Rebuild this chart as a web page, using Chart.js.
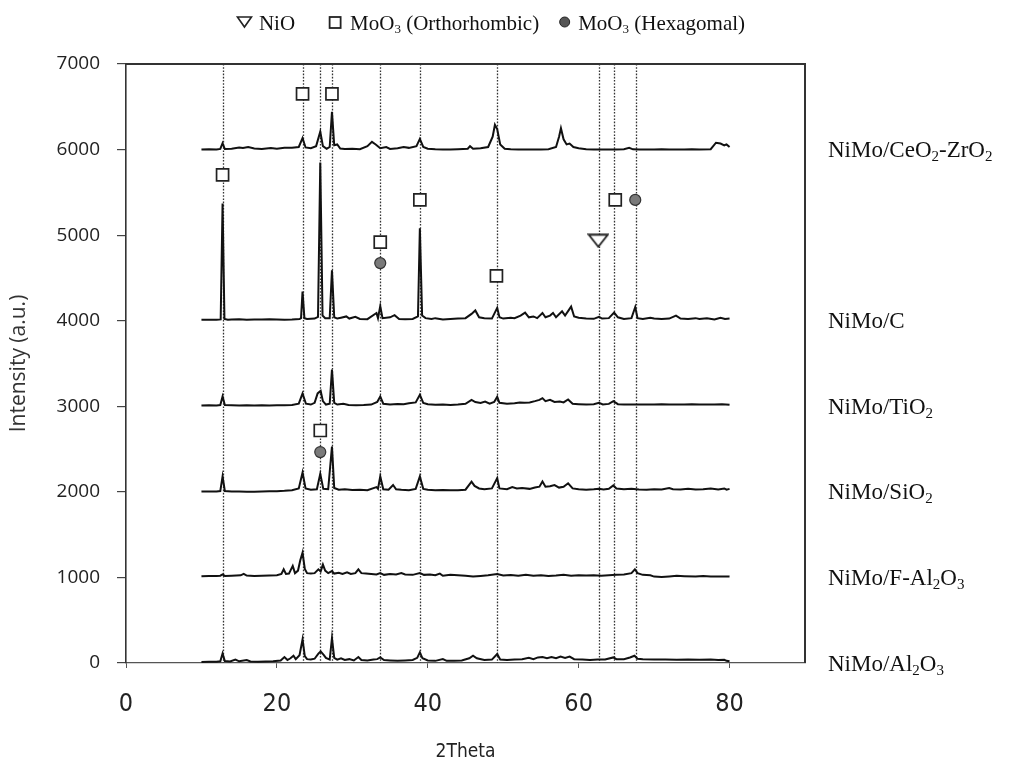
<!DOCTYPE html>
<html><head><meta charset="utf-8">
<script src="https://cdn.jsdelivr.net/npm/chart.js@4.4.0/dist/chart.umd.min.js"></script>
<style>html,body{margin:0;padding:0;background:#fff;} #wrap{width:1025px;height:764px;position:relative;}</style>
</head><body><div id="wrap"><canvas id="c" width="1025" height="764"></canvas></div>
<script>
// ---------- data ----------
const xTickValues = [0, 20, 40, 60, 80];
const xTickLabels = ['0', '20', '40', '60', '80'];
const yTickValues = [0, 1000, 2000, 3000, 4000, 5000, 6000, 7000];
const yTickLabels = ['0', '1000', '2000', '3000', '4000', '5000', '6000', '7000'];

const seriesLabels = ['NiMo/Al₂O₃', 'NiMo/F-Al₂O₃', 'NiMo/SiO₂', 'NiMo/TiO₂', 'NiMo/C', 'NiMo/CeO₂-ZrO₂'];
const seriesOffsets = [0, 1000, 2000, 3000, 4000, 6000];

const legendLabels = ['NiO', 'MoO₃ (Orthorhombic)', 'MoO₃ (Hexagomal)'];

// reference peak positions (dotted lines), 2Theta
const peakLines = [12.8, 23.4, 25.75, 27.3, 33.7, 38.95, 49.2, 62.7, 64.7, 67.55];

// phase markers [2Theta, intensity]
const nioMarkers = [[62.6, 4935]];
const orthoMarkers = [[23.4, 6650], [27.3, 6650], [12.8, 5705], [33.7, 4918], [38.95, 5412], [49.1, 4525], [64.85, 5412], [25.75, 2717]];
const hexMarkers = [[33.7, 4673], [67.5, 5412], [25.75, 2465]];

const ceo2zro2 = [[10,6000],[11,6004],[12,6002],[12.5,6008],[12.8,6075],[13.1,6006],[14,6010],[15,6025],[15.5,6018],[16.2,6030],[17,6012],[18,6008],[19.2,6018],[20,6010],[21,6020],[22,6022],[22.9,6030],[23.4,6135],[23.8,6025],[24.5,6015],[25.2,6040],[25.75,6210],[26.1,6040],[26.6,6010],[27.0,6030],[27.3,6440],[27.6,6050],[28.0,6060],[28.4,6012],[29,6008],[30,6010],[31,6005],[32,6040],[32.6,6090],[33.1,6060],[33.7,6015],[34.5,6030],[35,6008],[36,6015],[36.8,6030],[37.5,6020],[38.5,6040],[38.95,6125],[39.4,6030],[40,6010],[41,6005],[42,6002],[43,6000],[44,6005],[45.3,6010],[45.6,6040],[46,6010],[47,6015],[48,6030],[48.6,6150],[48.9,6290],[49.2,6240],[49.6,6060],[50.2,6010],[51,6005],[52,6002],[53,6000],[54,6002],[55,6000],[56,6005],[57,6030],[57.4,6150],[57.65,6250],[58,6120],[58.4,6060],[58.8,6070],[59.3,6030],[60,6015],[61,6005],[62,6002],[63,6000],[64,6002],[65,6000],[66,6003],[66.7,6020],[67.2,6003],[68,6000],[69,6002],[70,6000],[71,6003],[72,6000],[73,6002],[74,6000],[75,6003],[76,6000],[77.5,6005],[78.2,6080],[78.8,6070],[79.3,6050],[79.6,6060],[80,6030]];

const carbon = [[10,4010],[11,4012],[12,4010],[12.55,4015],[12.8,5370],[13.05,4020],[13.5,4012],[14,4015],[15,4018],[16,4012],[17,4015],[18,4013],[19,4018],[20,4015],[21,4012],[22,4015],[23,4020],[23.2,4030],[23.4,4340],[23.65,4030],[24,4020],[25,4025],[25.45,4045],[25.75,5850],[26.05,4060],[26.4,4030],[27.0,4030],[27.3,4590],[27.6,4040],[28,4025],[28.5,4035],[29.2,4050],[29.6,4025],[30.4,4045],[31,4020],[32,4018],[33.2,4090],[33.4,4030],[33.7,4170],[34,4030],[35,4040],[35.6,4065],[36.2,4020],[37,4018],[38,4020],[38.7,4050],[38.95,5080],[39.25,4060],[39.7,4030],[40.5,4020],[41,4030],[42,4015],[43,4020],[44,4025],[45,4030],[45.8,4080],[46.3,4120],[46.8,4040],[47.5,4030],[48.5,4025],[49.2,4150],[49.5,4040],[50,4025],[51,4035],[51.5,4030],[52.3,4060],[52.9,4095],[53.4,4040],[54,4050],[54.5,4030],[55.2,4090],[55.6,4040],[56.2,4060],[56.6,4090],[57,4040],[57.8,4110],[58.2,4060],[59.0,4165],[59.4,4050],[60,4035],[61,4025],[62,4022],[62.7,4045],[63.1,4025],[64,4030],[64.7,4095],[65.2,4040],[66,4020],[67,4030],[67.5,4160],[67.8,4030],[68.5,4020],[69.5,4035],[70,4025],[71,4020],[72,4025],[72.9,4060],[73.5,4025],[74.5,4020],[75.5,4030],[76,4020],[77,4030],[78,4015],[78.8,4035],[79.4,4020],[80,4025]];

const tio2 = [[10,3010],[11,3012],[12,3010],[12.5,3015],[12.8,3115],[13.1,3015],[14,3012],[15,3010],[16,3012],[17,3010],[18,3012],[19,3010],[20,3012],[21,3012],[22,3015],[22.9,3030],[23.4,3150],[23.85,3030],[24.5,3020],[25,3040],[25.4,3150],[25.8,3180],[26.1,3060],[26.5,3020],[27.0,3030],[27.3,3430],[27.6,3040],[28,3020],[28.8,3030],[29.5,3015],[30.5,3012],[31.5,3015],[32.5,3020],[33.3,3050],[33.7,3115],[34.1,3030],[35,3020],[36,3028],[36.8,3025],[37.5,3035],[38.4,3045],[38.95,3135],[39.4,3040],[40,3025],[41,3018],[42,3020],[43,3015],[44,3020],[45,3030],[45.8,3075],[46.3,3050],[47,3040],[47.6,3055],[48.2,3030],[48.8,3050],[49.2,3110],[49.5,3040],[50.5,3030],[51.5,3035],[52.2,3045],[52.8,3040],[53.5,3045],[54.2,3060],[54.8,3075],[55.2,3095],[55.6,3060],[56.2,3075],[56.8,3050],[57.5,3055],[58,3045],[58.6,3080],[59.2,3030],[60,3025],[61,3020],[62,3025],[62.7,3040],[63.2,3022],[64,3028],[64.6,3060],[65.2,3025],[66,3020],[67,3022],[68,3020],[69,3022],[70,3020],[71,3025],[72,3020],[73,3022],[74,3020],[75,3025],[76,3020],[77,3022],[78,3020],[79,3025],[80,3018]];

const sio2 = [[10,2003],[11,2005],[12,2004],[12.5,2010],[12.8,2180],[13.1,2010],[14,2005],[15,2003],[16,2000],[17,2002],[18,2005],[19,2008],[20,2008],[21,2012],[22,2018],[22.9,2040],[23.4,2225],[23.8,2040],[24.5,2025],[25.3,2030],[25.75,2210],[26.15,2035],[26.8,2030],[27.3,2530],[27.6,2045],[28.2,2025],[29,2030],[30,2022],[31,2025],[32,2020],[33.2,2055],[33.4,2035],[33.7,2180],[34.1,2030],[34.8,2025],[35.4,2080],[35.8,2030],[36.5,2025],[37.5,2020],[38.4,2035],[38.95,2180],[39.4,2035],[40,2025],[41,2020],[42,2022],[43,2020],[44,2018],[45,2025],[45.8,2120],[46.2,2070],[46.8,2040],[47.5,2030],[48.5,2040],[49.2,2160],[49.5,2040],[50.5,2030],[51.2,2055],[51.8,2040],[52.5,2045],[53.5,2035],[54.2,2050],[54.8,2060],[55.2,2120],[55.6,2060],[56.2,2065],[56.8,2080],[57.4,2050],[58,2060],[58.6,2100],[59.2,2040],[60,2030],[61,2025],[62,2030],[62.7,2035],[63.3,2028],[64,2035],[64.6,2075],[65,2040],[66,2030],[67,2035],[68,2028],[69,2025],[70,2030],[71,2028],[72,2045],[72.5,2030],[73.5,2028],[74.5,2035],[75.5,2028],[76.5,2030],[77.5,2040],[78.5,2028],[79.3,2040],[79.6,2025],[80,2035]];

const fal2o3 = [[10,1015],[11,1018],[12,1016],[12.5,1020],[12.8,1035],[13.1,1018],[14,1020],[15.2,1025],[15.6,1042],[16,1022],[17,1018],[18,1020],[19,1022],[20,1025],[20.6,1040],[20.9,1095],[21.2,1040],[21.6,1045],[22.1,1135],[22.4,1050],[22.8,1080],[23.1,1200],[23.4,1290],[23.7,1100],[24,1050],[24.5,1045],[25,1050],[25.5,1095],[25.8,1070],[26.1,1150],[26.4,1080],[26.8,1050],[27.3,1075],[27.6,1045],[28.2,1055],[28.7,1040],[29.3,1060],[29.8,1040],[30.4,1050],[30.8,1095],[31.2,1050],[31.8,1045],[32.5,1040],[33.2,1035],[33.7,1050],[34.2,1030],[35,1040],[35.8,1035],[36.5,1050],[37,1035],[38,1030],[38.95,1050],[39.5,1030],[40.3,1035],[41,1025],[41.6,1045],[42,1020],[43,1030],[44,1025],[45,1020],[46,1010],[47,1018],[48,1025],[49.2,1040],[50,1022],[51,1028],[52,1020],[53,1030],[54,1020],[55,1025],[56,1018],[57,1022],[58,1030],[59,1020],[60,1025],[61,1022],[62,1025],[63,1020],[64,1025],[65,1030],[66,1035],[67,1050],[67.45,1095],[67.8,1050],[68.5,1030],[69.5,1025],[70,1010],[71,1005],[72,1012],[73,1020],[74,1015],[75.5,1010],[76.5,1018],[77.5,1012],[78.5,1010],[79.3,1012],[80,1010]];

const al2o3 = [[10,12],[11,15],[12,14],[12.5,20],[12.8,110],[13.1,22],[13.8,18],[14.5,40],[15,20],[16,35],[16.5,18],[17.5,15],[18.5,18],[19.5,20],[20.5,30],[21,70],[21.4,35],[21.8,55],[22.2,85],[22.5,45],[23.0,90],[23.4,275],[23.7,80],[24,45],[24.5,40],[25,50],[25.5,110],[25.8,135],[26.2,95],[26.5,60],[27.0,40],[27.3,290],[27.6,60],[28,40],[28.5,55],[29,35],[29.6,45],[30.2,30],[30.8,70],[31.2,35],[32,30],[32.8,40],[33.3,45],[33.7,65],[34.2,35],[35,30],[36,25],[37,30],[38,35],[38.6,60],[38.95,125],[39.3,55],[40,30],[41,25],[42,45],[42.5,25],[43.5,25],[44.5,30],[45.5,55],[46,85],[46.5,55],[47.5,35],[48.5,40],[49.2,105],[49.6,40],[50.5,35],[51.5,40],[52.5,45],[53.4,60],[54,45],[54.6,65],[55.2,70],[55.8,55],[56.4,70],[57,55],[57.6,75],[58.2,60],[58.8,75],[59.4,45],[60.5,40],[61.5,35],[62.5,40],[63.5,40],[64.6,65],[65,45],[66,45],[66.8,65],[67.4,85],[67.8,50],[68.5,45],[70,40],[71.5,42],[73,38],[74.5,40],[76,38],[77.5,40],[78.5,35],[79.3,38],[79.6,25],[80,20]];

const seriesData = [al2o3, fal2o3, sio2, tio2, carbon, ceo2zro2];

// ---------- helpers ----------
const SERIF = '"Liberation Serif", "Times New Roman", serif';
const SUBS = {'₀':'0','₁':'1','₂':'2','₃':'3','₄':'4','₅':'5','₆':'6','₇':'7','₈':'8','₉':'9'};
function splitRich(str) {
  const parts = [];
  for (const ch of str) {
    const sub = SUBS[ch] !== undefined;
    const t = sub ? SUBS[ch] : ch;
    if (parts.length && parts[parts.length - 1].sub === sub) parts[parts.length - 1].t += t;
    else parts.push({t, sub});
  }
  return parts;
}
function richWidth(ctx, str, size, subSize) {
  let w = 0;
  for (const p of splitRich(str)) {
    ctx.font = (p.sub ? subSize : size) + 'px ' + SERIF;
    w += ctx.measureText(p.t).width;
  }
  return w;
}
function drawRich(ctx, str, x, y, size, subSize, shift) {
  ctx.textBaseline = 'alphabetic';
  ctx.textAlign = 'left';
  for (const p of splitRich(str)) {
    ctx.font = (p.sub ? subSize : size) + 'px ' + SERIF;
    ctx.fillText(p.t, x, y + (p.sub ? shift : 0));
    x += ctx.measureText(p.t).width;
  }
  return x;
}
function triSymbol(ctx, cx, cy, w, h, lw) {
  ctx.beginPath();
  ctx.moveTo(cx - w / 2, cy - h / 2);
  ctx.lineTo(cx + w / 2, cy - h / 2);
  ctx.lineTo(cx, cy + h / 2);
  ctx.closePath();
  ctx.fillStyle = '#fff';
  ctx.fill();
  ctx.lineWidth = lw;
  ctx.strokeStyle = '#222';
  ctx.stroke();
}
const triCanvas = document.createElement('canvas');
triCanvas.width = 22; triCanvas.height = 15;
triSymbol(triCanvas.getContext('2d'), 11, 7.5, 19, 12, 1.8);

// ---------- overlay plugin ----------
const overlay = {
  id: 'overlay',
  beforeDatasetsDraw(chart) {
    const {ctx, chartArea: a, scales: {x}} = chart;
    ctx.save();
    ctx.strokeStyle = '#333';
    ctx.lineWidth = 1.3;
    ctx.setLineDash([1.6, 1.6]);
    for (const v of peakLines) {
      const px = Math.round(x.getPixelForValue(v)) + 0.5;
      ctx.beginPath();
      ctx.moveTo(px, a.top);
      ctx.lineTo(px, a.bottom);
      ctx.stroke();
    }
    ctx.restore();
  },
  afterDraw(chart) {
    const {ctx, chartArea: a, scales: {y}} = chart;
    ctx.save();
    // top and right frame
    ctx.strokeStyle = '#333';
    ctx.lineWidth = 2;
    ctx.beginPath();
    ctx.moveTo(a.left, a.top);
    ctx.lineTo(a.right, a.top);
    ctx.lineTo(a.right, a.bottom);
    ctx.stroke();
    // series labels
    ctx.fillStyle = '#111';
    seriesLabels.forEach((lab, i) => {
      const py = y.getPixelForValue(seriesOffsets[i]);
      drawRich(ctx, lab, a.right + 23, py + 7.5, 23, 15, 4);
    });
    // legend
    const size = 21, sub = 13, shift = 3.5;
    const symW = [15, 12, 11];
    const symGap = [7, 9, 8];
    const itemGap = [34, 20];
    const widths = legendLabels.map(l => richWidth(ctx, l, size, sub));
    let total = 0;
    legendLabels.forEach((l, i) => { total += symW[i] + symGap[i] + widths[i] + (i < 2 ? itemGap[i] : 0); });
    let lx = 491 - total / 2;
    const ly = 23;
    legendLabels.forEach((l, i) => {
      const cx = lx + symW[i] / 2;
      if (i === 0) {
        triSymbol(ctx, cx, ly - 1, 14, 10, 1.6);
      } else if (i === 1) {
        ctx.lineWidth = 1.8; ctx.strokeStyle = '#222'; ctx.fillStyle = '#fff';
        ctx.fillRect(cx - 5.5, ly - 6, 11, 11);
        ctx.strokeRect(cx - 5.5, ly - 6, 11, 11);
      } else {
        ctx.beginPath(); ctx.arc(cx, ly - 1, 5, 0, Math.PI * 2);
        ctx.fillStyle = '#555'; ctx.fill();
        ctx.lineWidth = 1; ctx.strokeStyle = '#222'; ctx.stroke();
      }
      lx += symW[i] + symGap[i];
      ctx.fillStyle = '#111';
      drawRich(ctx, l, lx, ly + 6.5, size, sub, shift);
      lx += widths[i] + (i < 2 ? itemGap[i] : 0);
    });
    ctx.restore();
  }
};

const toXY = arr => arr.map(p => ({x: p[0], y: p[1]}));

const datasets = seriesData.map((d, i) => ({
  type: 'line',
  label: seriesLabels[i],
  data: toXY(d),
  borderColor: '#111',
  borderWidth: 2,
  pointRadius: 0,
  tension: 0,
  fill: false,
  order: 2
}));
datasets.push({
  type: 'scatter', label: legendLabels[1], data: toXY(orthoMarkers),
  pointStyle: 'rect', pointRadius: 8.5, backgroundColor: '#fff', borderColor: '#222', borderWidth: 1.7, order: 0
});
datasets.push({
  type: 'scatter', label: legendLabels[2], data: toXY(hexMarkers),
  pointStyle: 'circle', pointRadius: 5.5, backgroundColor: '#7a7a7a', borderColor: '#333', borderWidth: 1.2, order: 0
});
datasets.push({
  type: 'scatter', label: legendLabels[0], data: toXY(nioMarkers),
  pointStyle: triCanvas, pointRadius: 10, order: 0
});

const tickFamily = '"Liberation Sans Narrow", "DejaVu Sans Condensed", "Open Sans", sans-serif';

new Chart(document.getElementById('c'), {
  type: 'line',
  data: {datasets},
  options: {
    responsive: false,
    animation: false,
    devicePixelRatio: 1,
    layout: {padding: {top: 64, right: 220, left: 0, bottom: 0}},
    plugins: {legend: {display: false}, tooltip: {enabled: false}},
    scales: {
      x: {
        type: 'linear', min: 0, max: 90,
        afterBuildTicks: s => { s.ticks = xTickValues.map(v => ({value: v})); },
        afterFit: s => { s.height = 101; },
        grid: {display: true, drawOnChartArea: false, drawTicks: true, tickLength: 5, color: '#555', lineWidth: 1},
        border: {display: true, color: '#555', width: 1.3},
        ticks: {callback: (v, i) => xTickLabels[i], font: {family: tickFamily, size: 25}, color: '#222', padding: 21, maxRotation: 0},
        title: {display: true, text: '2Theta', font: {family: tickFamily, size: 19}, color: '#222', padding: {top: 0, bottom: 1}}
      },
      y: {
        type: 'linear', min: 0, max: 7000,
        afterBuildTicks: s => { s.ticks = yTickValues.map(v => ({value: v})); },
        afterFit: s => { s.width = 126; },
        grid: {display: true, drawOnChartArea: false, drawTicks: true, tickLength: 9, color: '#444', lineWidth: 1.2},
        border: {display: true, color: '#333', width: 1.6},
        ticks: {callback: (v, i) => yTickLabels[i], font: {family: '"Open Sans", sans-serif', size: 19}, color: '#222', padding: 17},
        title: {display: true, text: 'Intensity (a.u.)', font: {family: '"Open Sans", sans-serif', size: 21}, color: '#333', padding: {top: 6, bottom: 0}}
      }
    }
  },
  plugins: [overlay]
});
</script>
</body></html>
